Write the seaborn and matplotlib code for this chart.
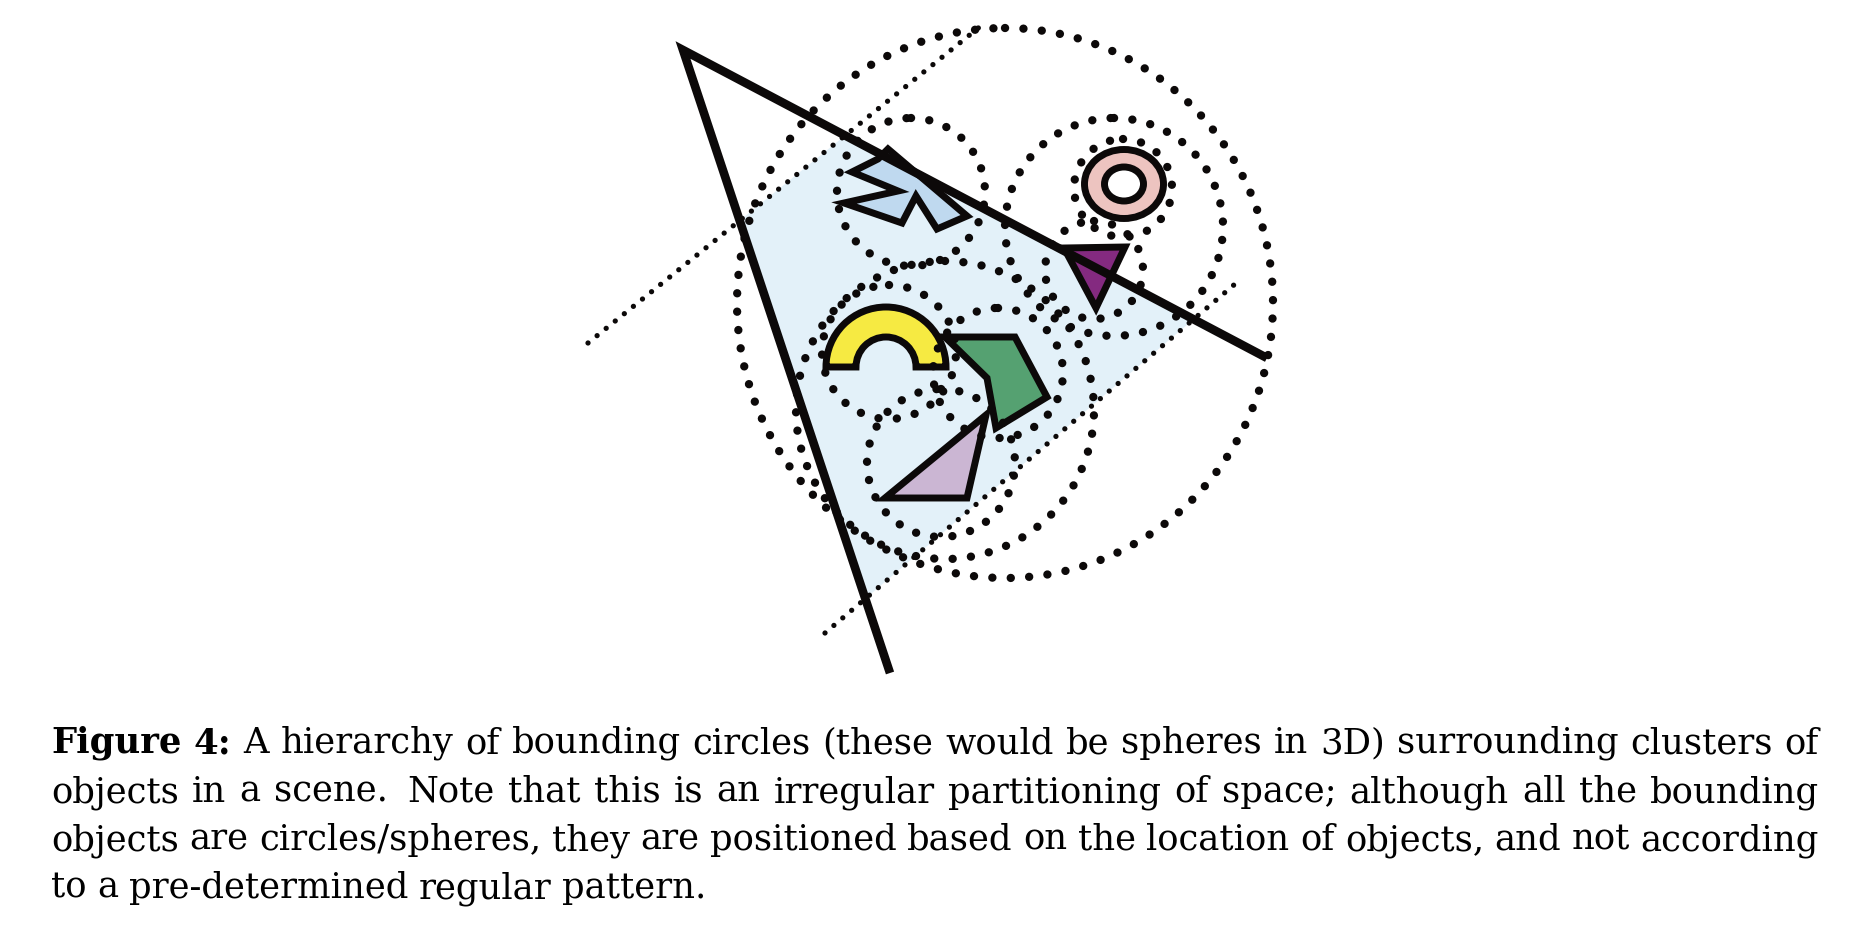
import re
import numpy as np
import matplotlib
matplotlib.use("Agg")
import matplotlib.pyplot as plt
from matplotlib.patches import Ellipse, Polygon, Wedge
import seaborn as sns

W, H = 1864, 934

# view frustum (triangle): right end, apex, bottom end
frustum_x = [1267, 683, 890]
frustum_y = [358, 50, 673]

# near / far planes (small dotted lines)
near_x = [588, 982]
near_y = [343, 25]
far_x = [825, 1235]
far_y = [633, 284]

# bounding circles: centre and radii
circle_names = ["root", "star", "ring_group", "ring", "purple",
                "lower_group", "yellow", "green", "lilac"]
circle_cx = [1005, 911, 1114, 1123, 1094, 945, 889, 998, 941]
circle_cy = [303, 192, 227, 188, 270, 410, 352, 373, 463]
circle_rx = [268, 74, 109, 49, 49, 149, 67, 65, 74]
circle_ry = [275, 74, 109, 49, 49, 149, 67, 65, 74]

# objects
star_x = [888, 967, 937, 916, 902, 844, 898, 852, 878]
star_y = [149, 216, 229, 196, 223, 203, 191, 172, 159]
purple_x = [1064, 1125, 1096]
purple_y = [248, 247, 308]
green_x = [945, 1015, 1047, 996, 987]
green_y = [337, 337, 397, 428, 378]
lilac_x = [885, 967, 986]
lilac_y = [498, 498, 415]
ring_c = (1124, 184)
ring_outer = (39.5, 34.5)
ring_inner = (19.5, 17)
arch_c = (886, 367)
arch_r_out, arch_r_in = 60, 30

caption_bold = "Figure 4:"
caption_lines = [
    "Figure 4: A hierarchy of bounding circles (these would be spheres in 3D) surrounding clusters of",
    "objects in a scene.  Note that this is an irregular partitioning of space; although all the bounding",
    "objects are circles/spheres, they are positioned based on the location of objects, and not according",
    "to a pre-determined regular pattern.",
]
caption_base = [753, 802, 850, 898]
caption_left, caption_right = 51, 1819

INK = "#0c0909"
sns.set_theme(style="white")
plt.rcParams["font.family"] = ["DejaVu Serif"]

fig = plt.figure(figsize=(W / 100, H / 100), dpi=100)
ax = fig.add_axes([0, 0, 1, 1])


def clip(poly, p, q, inside):
    # keep the part of poly on the same side of line p-q as point inside
    def side(pt):
        return (q[0] - p[0]) * (pt[1] - p[1]) - (q[1] - p[1]) * (pt[0] - p[0])
    s_in = np.sign(side(inside))
    out = []
    n = len(poly)
    for i in range(n):
        a, b = poly[i], poly[(i + 1) % n]
        sa, sb = side(a) * s_in, side(b) * s_in
        if sa >= 0:
            out.append(a)
        if sa * sb < 0:
            t = sa / (sa - sb)
            out.append((a[0] + t * (b[0] - a[0]), a[1] + t * (b[1] - a[1])))
    return out


tri = list(zip(frustum_x, frustum_y))
near_p, near_q = (near_x[0], near_y[0]), (near_x[1], near_y[1])
far_p, far_q = (far_x[0], far_y[0]), (far_x[1], far_y[1])
region = clip(tri, near_p, near_q, far_p)
region = clip(region, far_p, far_q, near_p)
ax.add_patch(Polygon(region, closed=True, facecolor="#e3f1f9", edgecolor="none", zorder=1))

# objects
lw_obj = 5.0
ax.add_patch(Polygon(list(zip(star_x, star_y)), closed=True, facecolor="#bfd9ef",
                     edgecolor=INK, linewidth=lw_obj, joinstyle="miter", zorder=3))
ax.add_patch(Polygon(list(zip(purple_x, purple_y)), closed=True, facecolor="#842a80",
                     edgecolor=INK, linewidth=lw_obj, joinstyle="miter", zorder=3))
ax.add_patch(Polygon(list(zip(green_x, green_y)), closed=True, facecolor="#55a171",
                     edgecolor=INK, linewidth=lw_obj, joinstyle="miter", zorder=3))
ax.add_patch(Polygon(list(zip(lilac_x, lilac_y)), closed=True, facecolor="#cbb6d3",
                     edgecolor=INK, linewidth=lw_obj, joinstyle="miter", zorder=3))
ax.add_patch(Ellipse(ring_c, 2 * ring_outer[0], 2 * ring_outer[1], facecolor="#edc4c0",
                     edgecolor=INK, linewidth=lw_obj, zorder=3))
ax.add_patch(Ellipse(ring_c, 2 * ring_inner[0], 2 * ring_inner[1], facecolor="white",
                     edgecolor=INK, linewidth=lw_obj, zorder=3))
ax.add_patch(Wedge(arch_c, arch_r_out, 180, 360, width=arch_r_out - arch_r_in,
                   facecolor="#f6ea42", edgecolor=INK, linewidth=lw_obj,
                   joinstyle="miter", zorder=3))

# bounding circles (big dots)
for cx, cy, rx, ry in zip(circle_cx, circle_cy, circle_rx, circle_ry):
    e = Ellipse((cx, cy), 2 * rx, 2 * ry, fill=False, edgecolor=INK, linewidth=6.0,
                linestyle=(0, (0.01, 2.2)), capstyle="round", zorder=4)
    ax.add_patch(e)

# near / far planes (small dots)
for px, py in [(near_x, near_y), (far_x, far_y)]:
    sns.lineplot(x=px, y=py, ax=ax, sort=False, estimator=None, color=INK,
                 linewidth=3.8, linestyle=(0, (0.01, 2.2)), dash_capstyle="round", zorder=5)

# frustum
sns.lineplot(x=frustum_x, y=frustum_y, ax=ax, sort=False, estimator=None, color=INK,
             linewidth=6.2, solid_joinstyle="miter", solid_capstyle="butt", zorder=6)

ax.set_xlim(0, W)
ax.set_ylim(H, 0)
ax.axis("off")

# caption, justified like the original
fig.canvas.draw()
renderer = fig.canvas.get_renderer()
line_words = []
for i, line in enumerate(caption_lines):
    parts = re.split(r"( +)", line)
    n_bold = len(caption_bold.split()) if i == 0 else 0
    line_words.append((parts[0::2], parts[1::2], n_bold))


def measure(fs):
    out = []
    for i, (words, spaces, n_bold) in enumerate(line_words):
        texts = [ax.text(0, caption_base[i], w, fontsize=fs, va="baseline", ha="left",
                         fontweight="bold" if j < n_bold else "normal",
                         color="black", zorder=7) for j, w in enumerate(words)]
        widths = [t.get_window_extent(renderer).width for t in texts]
        out.append((texts, widths))
    return out


fs = 27.0
while True:
    laid = measure(fs)
    em = fs * 100 / 72
    gaps = []
    for (texts, widths), (words, spaces, nb) in zip(laid[:-1], line_words[:-1]):
        weights = [1 + 0.5 * (len(s) - 1) for s in spaces]
        gaps.append((caption_right - caption_left - sum(widths)) / sum(weights))
    if min(gaps) >= 0.26 * em or fs <= 18:
        break
    for texts, _ in laid:
        for t in texts:
            t.remove()
    fs -= 0.5

em = fs * 100 / 72
for i, ((texts, widths), (words, spaces, nb)) in enumerate(zip(laid, line_words)):
    weights = [1 + 0.5 * (len(s) - 1) for s in spaces]
    if i == len(caption_lines) - 1:
        unit = 0.3 * em
    else:
        unit = (caption_right - caption_left - sum(widths)) / sum(weights)
    x = caption_left
    for j, (t, w) in enumerate(zip(texts, widths)):
        t.set_x(x)
        x += w + (unit * weights[j] if j < len(weights) else 0)

fig.savefig("out.png", dpi=100)
